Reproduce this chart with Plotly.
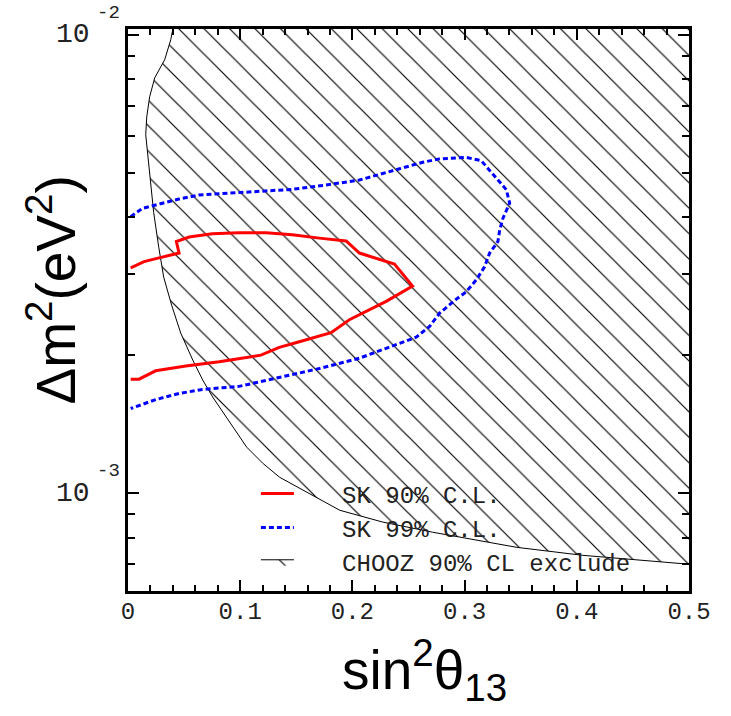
import math
import plotly.graph_objects as go

# CHOOZ 90% CL exclusion boundary (sin^2 theta13, delta m^2 in eV^2)
chooz_x = [0.0416, 0.0381, 0.0327, 0.0238, 0.0193, 0.0167, 0.0158, 0.0184, 0.0229,
           0.0274, 0.0318, 0.0389, 0.0470, 0.0577, 0.0666, 0.0755, 0.0924, 0.1058,
           0.1200, 0.1352, 0.1887, 0.2270, 0.2716, 0.3464, 0.4052, 0.5000, 0.51, 0.51]
chooz_y = [0.01078, 0.00975, 0.00882, 0.00805, 0.00732, 0.00662, 0.00605, 0.00525,
           0.00409, 0.00344, 0.00296, 0.00257, 0.002235, 0.001952, 0.001765, 0.00162,
           0.001408, 0.00126, 0.001163, 0.001083, 0.000918, 0.000865, 0.000822,
           0.000762, 0.000732, 0.000700, 0.000700, 0.01078]

# SK 90% C.L. contour
sk90_x = [0.0024, 0.0143, 0.0277, 0.0455, 0.0431, 0.0545, 0.0750, 0.0991, 0.1230,
          0.1464, 0.1705, 0.1944, 0.2063, 0.2375, 0.2536, 0.2301, 0.1973, 0.1810,
          0.1527, 0.1348, 0.1185, 0.0813, 0.0515, 0.0247, 0.0098, 0.0024]
sk90_y = [0.00310, 0.00320, 0.00326, 0.00334, 0.00354, 0.00362, 0.00368, 0.00370,
          0.00370, 0.00366, 0.00360, 0.00355, 0.00334, 0.00316, 0.00283, 0.00262,
          0.00239, 0.00224, 0.00214, 0.00208, 0.00200, 0.001935, 0.001894, 0.001849,
          0.001773, 0.001773]

# SK 99% C.L. contour
sk99_x = [0.0024, 0.0128, 0.0306, 0.0455, 0.0634, 0.0872, 0.1170, 0.1467, 0.1765,
          0.2063, 0.2420, 0.2628, 0.2777, 0.3015, 0.3149, 0.3194, 0.3283, 0.3372,
          0.3402, 0.3342, 0.3313, 0.3297, 0.3223, 0.3179, 0.3104, 0.3015, 0.2926,
          0.2777, 0.2688, 0.2569, 0.2301, 0.2063, 0.1705, 0.1348, 0.0991, 0.0663,
          0.0455, 0.0247, 0.0024]
sk99_y = [0.00401, 0.00418, 0.00429, 0.00438, 0.00447, 0.00451, 0.00455, 0.00460,
          0.00470, 0.00482, 0.00510, 0.00527, 0.00536, 0.00540, 0.00531, 0.00516,
          0.00487, 0.00459, 0.00429, 0.00398, 0.00375, 0.00354, 0.00334, 0.00312,
          0.00292, 0.00275, 0.00265, 0.00247, 0.00231, 0.00219, 0.00207, 0.00197,
          0.00187, 0.00179, 0.00171, 0.001684, 0.00165, 0.00160, 0.00153]

x_ticks = [0, 0.1, 0.2, 0.3, 0.4, 0.5]
x_ticktext = ["0", "0.1", "0.2", "0.3", "0.4", "0.5"]
y_ticks = [0.001, 0.01]
y_tick_exponents = ["-3", "-2"]
y_minor = [k * 1e-4 for k in range(6, 10)] + [k * 1e-3 for k in range(2, 10)]

MONO = "Liberation Mono, Courier New, monospace"
SANS = "Liberation Sans, Arial, Helvetica, sans-serif"
PAD = "\u00a0\u00a0\u00a0"  # gap between legend symbol and label

fig = go.Figure()

fig.add_trace(go.Scatter(
    x=chooz_x, y=chooz_y, mode="lines", fill="toself",
    name=PAD + "CHOOZ 90% CL exclude", legendrank=1003,
    line=dict(color="black", width=1),
    fillcolor="rgba(255,255,255,0)",
    fillpattern=dict(shape="\\", size=18, solidity=0.065, fgopacity=1,
                     fgcolor="#000000", bgcolor="rgba(255,255,255,0)"),
))
fig.add_trace(go.Scatter(
    x=sk90_x, y=sk90_y, mode="lines", name=PAD + "SK 90% C.L.", legendrank=1001,
    line=dict(color="#ff0000", width=3),
))
fig.add_trace(go.Scatter(
    x=sk99_x, y=sk99_y, mode="lines", name=PAD + "SK 99% C.L.", legendrank=1002,
    line=dict(color="#0000ff", width=3, dash="5px,3px"),
))

axis_common = dict(
    showline=True, linecolor="black", linewidth=2.5, mirror="allticks",
    ticks="inside", tickcolor="black", tickwidth=2, ticklen=11,
    showgrid=False, zeroline=False,
    tickfont=dict(family=MONO, size=24, color="#222222"),
)

fig.update_xaxes(
    range=[0, 0.5], tickmode="array", tickvals=x_ticks, ticktext=x_ticktext,
    minor=dict(dtick=0.02, ticks="inside", ticklen=6, tickwidth=1.5, tickcolor="black"),
    ticklabelstandoff=-4,
    **axis_common,
)
fig.update_yaxes(
    type="log", range=[-3.2133, -1.9876], tickmode="array",
    tickvals=y_ticks, showticklabels=False,
    minor=dict(tickmode="array", tickvals=y_minor, ticks="inside", ticklen=7,
               tickwidth=1.5, tickcolor="black"),
    **axis_common,
)

# decade labels on the log axis: mantissa "10" with a raised exponent
for val, expo in zip(y_ticks, y_tick_exponents):
    fig.add_annotation(
        text="10", xref="paper", yref="y", x=-0.064, y=math.log10(val),
        xanchor="right", yanchor="middle", showarrow=False,
        font=dict(family=MONO, size=28, color="#222222"),
    )
    fig.add_annotation(
        text=expo, xref="paper", yref="y", x=-0.058, y=math.log10(val),
        xanchor="left", yanchor="middle", yshift=22, showarrow=False,
        font=dict(family=MONO, size=19, color="#222222"),
    )

fig.add_annotation(
    text="Δm<sup>2</sup>(eV<sup>2</sup>)", textangle=-90,
    xref="paper", yref="paper", x=-0.135, y=0.535,
    xanchor="center", yanchor="middle", showarrow=False,
    font=dict(family=SANS, size=55, color="black"),
)
fig.add_annotation(
    text="sin<sup>2</sup>θ<sub>13</sub>",
    xref="paper", yref="paper", x=0.529, y=-0.141,
    xanchor="center", yanchor="middle", showarrow=False,
    font=dict(family=SANS, size=55, color="black"),
)

fig.update_layout(
    width=731, height=716,
    margin=dict(l=128, r=42, t=29, b=125),
    paper_bgcolor="white", plot_bgcolor="white",
    showlegend=True,
    legend=dict(
        x=0.228, y=0.213, xanchor="left", yanchor="top",
        bgcolor="rgba(0,0,0,0)", borderwidth=0,
        font=dict(family=MONO, size=24, color="#222222"),
        itemwidth=33, tracegroupgap=0,
    ),
)

fig.write_html("out.html")
